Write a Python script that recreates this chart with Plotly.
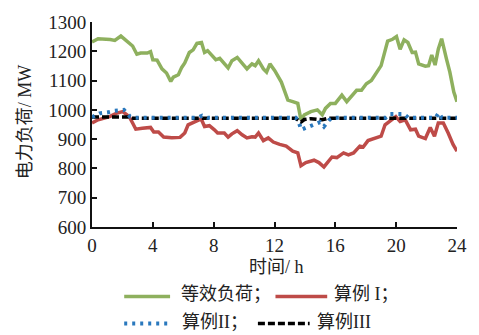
import plotly.graph_objects as go

# ---- data ----
green_h = [0, 0.4, 1.2, 1.5, 1.9, 2.45, 2.67, 2.95, 3.2, 3.63, 3.85, 4.0, 4.28, 4.6, 4.9, 5.18, 5.35, 5.68, 5.9, 6.1,
           6.4, 6.65, 6.9, 7.2, 7.4, 7.6, 7.9, 8.14, 8.4, 8.7, 8.95, 9.2, 9.55, 10.19, 10.52, 10.73, 10.95, 11.27, 11.48, 11.7,
           12.02, 12.45, 12.88, 13.2, 13.53, 13.74, 13.96, 14.39, 14.82, 15.14, 15.35, 15.68, 16.0, 16.43, 16.75, 17.4, 17.72, 18.04, 18.37, 19.01,
           19.23, 19.44, 19.76, 20.02, 20.26, 20.52, 20.77, 21.05, 21.27, 21.48, 21.92, 22.13, 22.34, 22.56, 22.77, 22.99, 23.31, 23.53, 23.79, 24.0]
green_v = [1232, 1243, 1240, 1237, 1252, 1230, 1218, 1190, 1194, 1194, 1199, 1171, 1170, 1140, 1126, 1097, 1112, 1120, 1145, 1160,
           1196, 1205, 1227, 1230, 1196, 1202, 1185, 1171, 1176, 1160, 1143, 1168, 1179, 1140, 1157, 1151, 1168, 1140, 1129, 1157,
           1134, 1095, 1033, 1028, 1022, 966, 983, 994, 1000, 983, 1005, 1022, 1022, 1050, 1028, 1067, 1067, 1089, 1100, 1151,
           1196, 1235, 1241, 1250, 1207, 1239, 1230, 1196, 1197, 1157, 1149, 1151, 1187, 1153, 1207, 1243, 1173, 1129, 1061, 1028]

red_h = [0, 0.4, 1.16, 1.59, 2.02, 2.45, 2.67, 2.88, 3.31, 3.85, 4.06, 4.37, 4.71, 5.25, 5.79, 6.1, 6.32, 6.75, 7.18, 7.4,
         7.72, 8.05, 8.26, 8.7, 8.95, 9.2, 9.55, 9.87, 10.19, 10.52, 10.73, 10.95, 11.27, 11.59, 11.92, 12.34, 12.77, 13.2, 13.53, 13.74,
         14.06, 14.6, 14.92, 15.25, 15.57, 15.78, 16.1, 16.54, 16.86, 17.2, 17.61, 17.83, 18.15, 18.58, 19.01, 19.27, 19.66, 19.98, 20.26, 20.6,
         20.95, 21.27, 21.48, 21.92, 22.24, 22.52, 22.77, 23.1, 23.42, 23.74, 24.0]
red_v = [955, 966, 977, 988, 994, 977, 955, 934, 937, 940, 924, 924, 907, 905, 906, 921, 949, 960, 969, 943,
         946, 932, 921, 921, 907, 918, 929, 915, 904, 908, 907, 921, 895, 904, 890, 882, 876, 859, 853, 809,
         820, 828, 820, 805, 826, 839, 837, 853, 846, 853, 876, 873, 895, 904, 910, 949, 966, 977, 960, 966,
         932, 934, 910, 902, 940, 910, 955, 955, 921, 882, 859]

blue_h = [0, 0.5, 1.0, 1.5, 2.1, 2.5, 2.8, 6.9, 7.25, 7.6, 13.4, 13.6, 13.75, 14.1, 14.6, 15.0, 15.25, 15.6, 15.9, 19.3,
          19.6, 20.0, 20.5, 20.8, 22.6, 22.8, 23.0, 24.0]
blue_v = [975, 988, 991, 997, 1000, 977, 973, 973, 980, 973, 973, 958, 932, 940, 951, 958, 943, 966, 973, 973,
          986, 986, 986, 973, 973, 990, 973, 973]

black_h = [0, 2.4, 2.7, 13.4, 13.74, 13.96, 14.4, 14.8, 15.14, 15.5, 24]
black_v = [976, 976, 971, 971, 958, 967, 970, 969, 966, 971, 971]

x_ticks = [0, 4, 8, 12, 16, 20, 24]
y_ticks = [600, 700, 800, 900, 1000, 1100, 1200, 1300]

names = ["等效负荷；", "算例 I；", "算例II；", "算例III"]
colors = ["#8EB05E", "#BE4B48", "#2A78BD", "#000000"]

FONT = "Liberation Serif, Times New Roman, Noto Sans CJK SC, serif"
BLUE_DASH = "3px,5px"
BLACK_DASH = "7px,3px"

fig = go.Figure()
fig.add_trace(go.Scatter(x=green_h, y=green_v, mode="lines", name=names[0],
                         line=dict(color=colors[0], width=3.5)))
fig.add_trace(go.Scatter(x=red_h, y=red_v, mode="lines", name=names[1],
                         line=dict(color=colors[1], width=3.5)))
fig.add_trace(go.Scatter(x=black_h, y=black_v, mode="lines", name=names[3],
                         line=dict(color=colors[3], width=3.5, dash=BLACK_DASH)))
fig.add_trace(go.Scatter(x=blue_h, y=blue_v, mode="lines", name=names[2],
                         line=dict(color=colors[2], width=4, dash=BLUE_DASH)))

L, R, T, B = 92, 13, 19, 108
W, H = 479, 335
pw, ph = W - L - R, H - T - B


def px(xp):
    return (xp - L) / pw


def py(yp):
    return (H - B - yp) / ph


# manual legend
leg = [
    (125, 172, 297.5, 181, 295, 0),
    (280, 333, 297.5, 338, 295, 1),
    (125, 172, 325, 182, 323, 2),
    (262, 315, 325, 320, 323, 3),
]
shapes = []
annotations = []
dashes = [None, None, BLUE_DASH, BLACK_DASH]
widths = [3.5, 3.5, 4, 3.5]
for x0, x1, ly, tx, ty, i in leg:
    ln = dict(color=colors[i], width=widths[i])
    if dashes[i]:
        ln["dash"] = dashes[i]
    shapes.append(dict(type="line", xref="paper", yref="paper",
                       x0=px(x0), x1=px(x1), y0=py(ly), y1=py(ly), line=ln))
    annotations.append(dict(text=names[i], xref="paper", yref="paper",
                            x=px(tx), y=py(ty), xanchor="left", yanchor="middle",
                            showarrow=False, font=dict(family=FONT, size=18, color="#222")))

annotations.append(dict(text="时间/ h", xref="paper", yref="paper", x=px(281), y=py(268),
                        xanchor="center", yanchor="middle", showarrow=False,
                        font=dict(family=FONT, size=18, color="#222")))
annotations.append(dict(text="电力负荷/ MW", xref="paper", yref="paper", x=px(23), y=py(120),
                        xanchor="center", yanchor="middle", showarrow=False, textangle=-90,
                        font=dict(family=FONT, size=18, color="#222")))

fig.update_layout(
    width=W, height=H,
    margin=dict(l=L, r=R, t=T, b=B),
    paper_bgcolor="white", plot_bgcolor="white",
    showlegend=False,
    shapes=shapes, annotations=annotations,
    font=dict(family=FONT, size=19, color="#222"),
)
fig.update_xaxes(range=[0, 24], tickvals=x_ticks, ticktext=[str(v) for v in x_ticks],
                 showgrid=False, zeroline=False, showline=True, linecolor="#111", linewidth=2,
                 ticks="inside", ticklen=5, tickwidth=1.5, tickcolor="#111",
                 tickfont=dict(family=FONT, size=19, color="#222"))
fig.update_yaxes(range=[600, 1300], tickvals=y_ticks, ticktext=[str(v) for v in y_ticks],
                 showgrid=False, zeroline=False, showline=True, linecolor="#111", linewidth=2,
                 ticks="inside", ticklen=5, tickwidth=1.5, tickcolor="#111",
                 tickfont=dict(family=FONT, size=19, color="#222"))

fig.write_html("out.html")
